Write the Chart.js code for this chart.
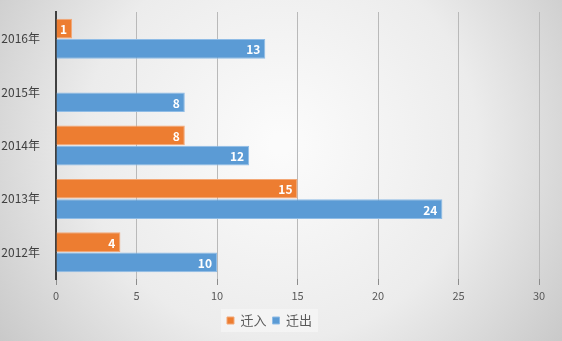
<!DOCTYPE html>
<html>
<head>
<meta charset="utf-8">
<script src="https://cdn.jsdelivr.net/npm/chart.js@4"></script>
<style>
  html, body { margin: 0; padding: 0; background: #fff; }
  #wrap { width: 562px; height: 341px; }
</style>
</head>
<body>
<div id="wrap"><canvas id="c" width="562" height="341"></canvas></div>
<script>
// categories top to bottom, as in the picture
const years = ["2016年", "2015年", "2014年", "2013年", "2012年"];
const moveIn = [1, null, 8, 15, 4];      // 迁入
const moveOut = [13, 8, 12, 24, 10];     // 迁出
const xTicks = [0, 5, 10, 15, 20, 25, 30];

const FONT = "'Noto Sans CJK SC', 'Noto Sans', sans-serif";

// radial grey background + light box behind the legend
const backdrop = {
  id: "backdrop",
  beforeDraw(chart) {
    const { ctx, width, height } = chart;
    ctx.save();
    const g = ctx.createRadialGradient(width * 0.5, height * 0.42, 10, width * 0.5, height * 0.42, width * 0.62);
    g.addColorStop(0, "#fbfbfb");
    g.addColorStop(0.55, "#ececec");
    g.addColorStop(1, "#c8c8c8");
    ctx.fillStyle = g;
    ctx.fillRect(0, 0, width, height);

    const boxes = chart.legend && chart.legend.legendHitBoxes;
    if (boxes && boxes.length) {
      const l = Math.min(...boxes.map(b => b.left)) - 6;
      const r = Math.max(...boxes.map(b => b.left + b.width)) + 6;
      const t = Math.min(...boxes.map(b => b.top)) - 5;
      const btm = Math.max(...boxes.map(b => b.top + b.height)) + 5;
      ctx.fillStyle = "rgba(245,245,245,0.75)";
      ctx.fillRect(l, t, r - l, btm - t);
    }
    ctx.restore();
  }
};

// white value labels at the inner end of each bar
const valueLabels = {
  id: "valueLabels",
  afterDatasetsDraw(chart) {
    const { ctx } = chart;
    ctx.save();
    ctx.font = "bold 12px " + FONT;
    ctx.fillStyle = "#ffffff";
    ctx.textAlign = "right";
    ctx.textBaseline = "middle";
    chart.data.datasets.forEach((ds, i) => {
      chart.getDatasetMeta(i).data.forEach((bar, j) => {
        const v = ds.data[j];
        if (v == null || v === 0) return;
        ctx.fillText(String(v), bar.x - 5, bar.y + 1);
      });
    });
    ctx.restore();
  }
};

new Chart(document.getElementById("c"), {
  type: "bar",
  data: {
    labels: years,
    datasets: [
      { label: "迁入", data: moveIn, backgroundColor: "#ED7D31", borderColor: "#f3a877", borderWidth: 1,
        categoryPercentage: 0.76, barPercentage: 0.97 },
      { label: "迁出", data: moveOut, backgroundColor: "#5B9BD5", borderColor: "#8fbce6", borderWidth: 1,
        categoryPercentage: 0.76, barPercentage: 0.97 }
    ]
  },
  options: {
    indexAxis: "y",
    responsive: false,
    animation: false,
    layout: { padding: { top: 12, right: 23, left: 0, bottom: 4 } },
    plugins: {
      tooltip: { enabled: false },
      legend: {
        position: "bottom",
        labels: {
          boxWidth: 7, boxHeight: 7, padding: 6,
          color: "#595959",
          font: { family: FONT, size: 13 }
        }
      }
    },
    scales: {
      x: {
        min: 0, max: 30,
        afterBuildTicks: s => { s.ticks = xTicks.map(v => ({ value: v })); },
        afterFit: s => { s.height = 29; },
        grid: { color: "#b9b9b9", lineWidth: 1, drawTicks: true, tickLength: 6, tickColor: "#8c8c8c" },
        border: { display: false },
        ticks: { color: "#595959", font: { family: FONT, size: 11 }, padding: 4 }
      },
      y: {
        afterFit: s => { s.width = 56; s.paddingTop = 0; s.paddingBottom = 0; },
        grid: { display: false },
        border: { display: true, color: "#404040", width: 2 },
        ticks: { color: "#404040", font: { family: FONT, size: 12 }, padding: 8 }
      }
    }
  },
  plugins: [backdrop, valueLabels]
});
</script>
</body>
</html>
